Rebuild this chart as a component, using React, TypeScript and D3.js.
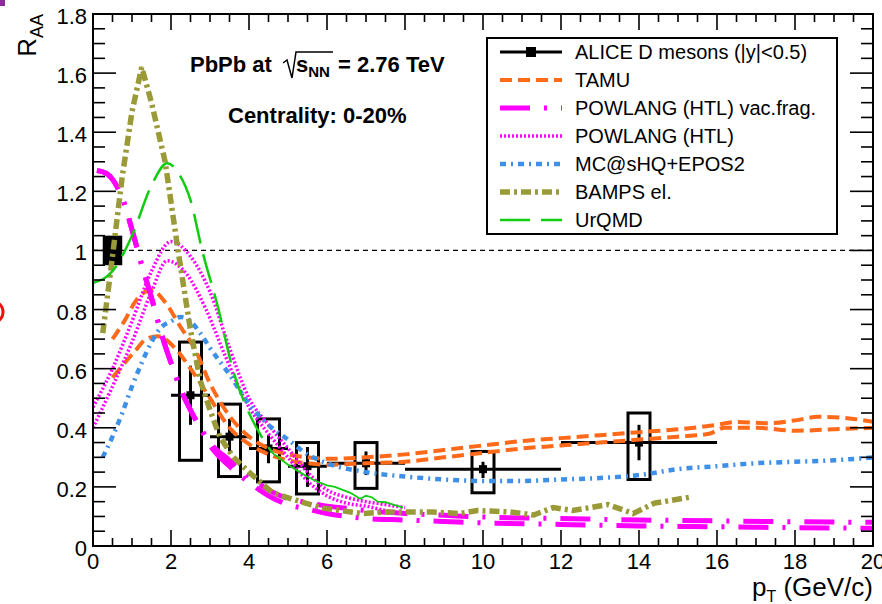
import React from "react";
import * as d3 from "d3";

type Pt = [number, number];

const width = 882;
const height = 604;
const frame = { left: 93, right: 873, top: 14, bottom: 546 };
const font = "'Liberation Sans', Arial, Helvetica, sans-serif";

// ALICE D mesons, 0-20%
const alicePt = [2.5, 3.5, 4.5, 5.5, 7, 10, 14];
const alicePtLow = [2, 3, 4, 5, 6, 8, 12];
const alicePtHigh = [3, 4, 5, 6, 8, 12, 16];
const aliceRaa = [0.51, 0.37, 0.33, 0.27, 0.28, 0.26, 0.35];
const aliceStatLow = [0.41, 0.32, 0.28, 0.2, 0.24, 0.23, 0.29];
const aliceStatHigh = [0.61, 0.43, 0.375, 0.335, 0.32, 0.285, 0.41];
const aliceSysLow = [0.29, 0.235, 0.217, 0.176, 0.195, 0.18, 0.225];
const aliceSysHigh = [0.69, 0.48, 0.43, 0.35, 0.35, 0.32, 0.45];
const normPt = [0.25, 0.75];
const normRaa = [0.95, 1.05];

// model curves
const tamuUpper: Pt[] = [
  [0.5, 0.7], [0.8, 0.76], [1.1, 0.83], [1.5, 0.866], [1.85, 0.825], [2.25, 0.74],
  [2.6, 0.67], [3.0, 0.55], [3.5, 0.44], [4.0, 0.37], [4.5, 0.33], [5, 0.31],
  [5.5, 0.3], [6, 0.295], [7, 0.3], [8, 0.31], [9, 0.325], [10, 0.34], [11, 0.355],
  [12, 0.365], [13, 0.375], [14, 0.385], [15, 0.395], [16, 0.41], [16.5, 0.42],
  [17.3, 0.415], [18, 0.425], [18.6, 0.437], [19.5, 0.43], [20, 0.42],
];
const tamuLower: Pt[] = [
  [0.5, 0.57], [1.08, 0.66], [1.36, 0.7], [1.67, 0.71], [2.1, 0.67], [2.5, 0.6],
  [3.0, 0.5], [3.5, 0.4], [4.0, 0.345], [4.5, 0.31], [5, 0.29], [5.5, 0.28],
  [6, 0.275], [7, 0.28], [8, 0.285], [9, 0.3], [10, 0.315], [11, 0.33], [12, 0.34],
  [13, 0.35], [14, 0.36], [15, 0.37], [15.8, 0.38], [16.2, 0.4], [17, 0.4],
  [18, 0.39], [19, 0.395], [20, 0.4],
];
const vacFragUpper: Pt[] = [
  [0.1, 1.27], [0.35, 1.26], [0.6, 1.22], [0.8, 1.16], [1.0, 1.07], [1.25, 0.95],
  [1.5, 0.84], [1.75, 0.72], [2.0, 0.62], [2.25, 0.53], [2.5, 0.46], [2.75, 0.4],
  [3.0, 0.35], [3.5, 0.29], [4.0, 0.235], [4.5, 0.19], [5, 0.16], [5.5, 0.147],
  [6, 0.135], [6.5, 0.128], [7, 0.12], [8, 0.11], [9, 0.104], [10, 0.098],
  [12, 0.093], [14, 0.088], [16, 0.085], [18, 0.082], [20, 0.08],
];
const vacFragLower: Pt[] = [
  [0.1, 1.27], [0.35, 1.26], [0.6, 1.22], [0.8, 1.16], [1.0, 1.07], [1.25, 0.95],
  [1.5, 0.84], [1.75, 0.72], [2.0, 0.62], [2.25, 0.53], [2.5, 0.46], [2.75, 0.4],
  [3.0, 0.34], [3.5, 0.27], [4.0, 0.215], [4.5, 0.17], [5, 0.14], [5.5, 0.125],
  [6, 0.11], [6.5, 0.1], [7, 0.093], [8, 0.088], [9, 0.083], [10, 0.078],
  [12, 0.073], [14, 0.068], [16, 0.065], [18, 0.062], [20, 0.06],
];
const htlUpper: Pt[] = [
  [0, 0.47], [0.5, 0.6], [1.0, 0.76], [1.5, 0.93], [2.0, 1.03], [2.5, 0.98],
  [3.0, 0.86], [3.5, 0.67], [4.0, 0.5], [4.5, 0.41], [5, 0.33], [5.5, 0.25],
  [6, 0.19], [6.5, 0.165], [7, 0.15], [7.5, 0.14], [8, 0.13],
];
const htlLower: Pt[] = [
  [0, 0.4], [0.5, 0.54], [1.0, 0.69], [1.5, 0.86], [1.9, 0.965], [2.4, 0.92],
  [2.9, 0.8], [3.4, 0.64], [4.0, 0.47], [4.5, 0.38], [5, 0.3], [5.5, 0.22],
  [6, 0.17], [6.5, 0.145], [7, 0.135], [7.5, 0.12], [8, 0.11],
];
const mcshq: Pt[] = [
  [0.25, 0.3], [0.5, 0.37], [0.75, 0.45], [1.0, 0.54], [1.25, 0.62], [1.5, 0.69],
  [1.75, 0.74], [2.0, 0.76], [2.25, 0.775], [2.5, 0.76], [2.75, 0.72], [3.0, 0.67],
  [3.5, 0.58], [4.0, 0.48], [4.5, 0.41], [5, 0.36], [5.5, 0.31], [6, 0.28],
  [7, 0.25], [8, 0.235], [9, 0.225], [10, 0.22], [11, 0.22], [12, 0.225],
  [13, 0.23], [14, 0.24], [15, 0.26], [16, 0.27], [17, 0.28], [18, 0.285],
  [19, 0.29], [20, 0.3],
];
const bamps: Pt[] = [
  [0.25, 0.72], [0.5, 0.98], [0.75, 1.25], [1.0, 1.47], [1.25, 1.62], [1.5, 1.5],
  [1.85, 1.3], [2.18, 1.0], [2.5, 0.73], [2.75, 0.56], [3.0, 0.46], [3.25, 0.37],
  [3.6, 0.3], [4.0, 0.25], [4.6, 0.18], [5.2, 0.155], [5.9, 0.128], [6.9, 0.11],
  [7.5, 0.115], [8.3, 0.115], [8.7, 0.115], [9.4, 0.11], [9.85, 0.12], [10.7, 0.115],
  [11.3, 0.105], [11.8, 0.13], [12.3, 0.12], [13.2, 0.14], [13.85, 0.11],
  [14.4, 0.145], [15.3, 0.165],
];
const urqmd: Pt[] = [
  [0, 0.89], [0.5, 0.93], [1.0, 1.05], [1.5, 1.22], [1.9, 1.295], [2.2, 1.26],
  [2.5, 1.17], [2.8, 1.0], [3.2, 0.81], [3.6, 0.59], [4.0, 0.45], [4.3, 0.375],
  [4.6, 0.315], [5.0, 0.275], [5.3, 0.25], [5.56, 0.23], [5.8, 0.215], [6.0, 0.205],
  [6.2, 0.2], [6.4, 0.19], [6.6, 0.18], [6.85, 0.16], [7.0, 0.17], [7.15, 0.165],
  [7.3, 0.15], [7.5, 0.148], [7.7, 0.14], [7.95, 0.13],
];
const urqmdDashEnd = 4.8;

const legendLabels = [
  "ALICE D mesons (|y|<0.5)",
  "TAMU",
  "POWLANG (HTL) vac.frag.",
  "POWLANG (HTL)",
  "MC@sHQ+EPOS2",
  "BAMPS el.",
  "UrQMD",
];

const styles = {
  tamu: { stroke: "#ff6a1a", width: 4, dash: "12 6" },
  vac: { stroke: "#ff00ff", width: 5, dash: "30 14 3 14" },
  htl: { stroke: "#ff00ff", width: 3.5, dash: "2 2" },
  mc: { stroke: "#3d8fe8", width: 4.5, dash: "6 5 2 5" },
  bamps: { stroke: "#9a9a38", width: 5.5, dash: "10 4 3 4" },
  urqmd: { stroke: "#11cc11", width: 2.5, dash: "30 11" },
};

export default function App() {
  const x = d3.scaleLinear().domain([0, 20]).range([frame.left, frame.right]);
  const y = d3.scaleLinear().domain([0, 1.8]).range([frame.bottom, frame.top]);

  const smooth = d3
    .line<Pt>()
    .x((d) => x(d[0]))
    .y((d) => y(d[1]))
    .curve(d3.curveMonotoneX);
  const straight = d3
    .line<Pt>()
    .x((d) => x(d[0]))
    .y((d) => y(d[1]));

  const xMajor = x.ticks(10);
  const xMinor = d3.range(0, 20.001, 0.5).filter((v) => Math.abs(v / 2 - Math.round(v / 2)) > 1e-6);
  const yMajor = y.ticks(9);
  const yMinor = d3.range(0, 1.8001, 0.05).filter((v) => Math.abs(v / 0.2 - Math.round(v / 0.2)) > 1e-6);
  const yFmt = (v: number) => String(+v.toFixed(1));

  const curve = (
    pts: Pt[],
    s: { stroke: string; width: number; dash: string },
    gen = smooth
  ) => (
    <path
      d={gen(pts) || ""}
      fill="none"
      stroke={s.stroke}
      strokeWidth={s.width}
      strokeDasharray={s.dash}
    />
  );

  const legendX = 487;
  const legendY = 38;
  const rowY = (i: number) => 52 + i * 28;
  const legendSamples = [
    null,
    styles.tamu,
    styles.vac,
    styles.htl,
    styles.mc,
    styles.bamps,
    styles.urqmd,
  ];

  return (
    <svg
      width={width}
      height={height}
      style={{ position: "absolute", left: 0, top: 0, background: "#fff" }}
      fontFamily={font}
    >
      <defs>
        <clipPath id="plot">
          <rect
            x={frame.left}
            y={frame.top}
            width={frame.right - frame.left}
            height={frame.bottom - frame.top}
          />
        </clipPath>
      </defs>

      {/* stray marks at the crop edge */}
      <rect x={0} y={0} width={5} height={6} fill="#8a2c9a" />
      <circle cx={-8} cy={312} r={11} fill="none" stroke="#ee1111" strokeWidth={3} />

      {/* reference line at 1 */}
      <line
        x1={frame.left}
        x2={frame.right}
        y1={y(1)}
        y2={y(1)}
        stroke="#000"
        strokeWidth={1.2}
        strokeDasharray="5 4"
      />

      {/* ALICE data */}
      <g>
        <rect
          x={x(normPt[0])}
          y={y(normRaa[1])}
          width={x(normPt[1]) - x(normPt[0])}
          height={y(normRaa[0]) - y(normRaa[1])}
          fill="#000"
        />
        {alicePt.map((pt, i) => (
          <g key={pt}>
            <rect
              x={x(pt) - 11}
              y={y(aliceSysHigh[i])}
              width={22}
              height={y(aliceSysLow[i]) - y(aliceSysHigh[i])}
              fill="none"
              stroke="#000"
              strokeWidth={3}
            />
            <line
              x1={x(alicePtLow[i])}
              x2={x(alicePtHigh[i])}
              y1={y(aliceRaa[i])}
              y2={y(aliceRaa[i])}
              stroke="#000"
              strokeWidth={3}
            />
            <line
              x1={x(pt)}
              x2={x(pt)}
              y1={y(aliceStatLow[i])}
              y2={y(aliceStatHigh[i])}
              stroke="#000"
              strokeWidth={3}
            />
            <rect x={x(pt) - 4} y={y(aliceRaa[i]) - 4} width={8} height={8} fill="#000" />
          </g>
        ))}
      </g>

      {/* models */}
      <g clipPath="url(#plot)">
        {curve(tamuUpper, styles.tamu)}
        {curve(tamuLower, styles.tamu)}
        {curve(htlUpper, styles.htl)}
        {curve(htlLower, styles.htl)}
        {curve(mcshq, styles.mc)}
        {curve(vacFragUpper, styles.vac)}
        {curve(vacFragLower, styles.vac)}
        {curve(bamps, styles.bamps, straight)}
        {curve(urqmd.filter((d) => d[0] <= urqmdDashEnd), styles.urqmd)}
        <path
          d={straight(urqmd.filter((d) => d[0] >= 4.6)) || ""}
          fill="none"
          stroke={styles.urqmd.stroke}
          strokeWidth={1.8}
        />
      </g>

      {/* frame and ticks */}
      <rect
        x={frame.left}
        y={frame.top}
        width={frame.right - frame.left}
        height={frame.bottom - frame.top}
        fill="none"
        stroke="#000"
        strokeWidth={2}
      />
      <g stroke="#000" strokeWidth={1.6}>
        {xMajor.map((v) => (
          <g key={`xM${v}`}>
            <line x1={x(v)} x2={x(v)} y1={frame.bottom} y2={frame.bottom - 16} />
            <line x1={x(v)} x2={x(v)} y1={frame.top} y2={frame.top + 16} />
          </g>
        ))}
        {xMinor.map((v) => (
          <g key={`xm${v}`}>
            <line x1={x(v)} x2={x(v)} y1={frame.bottom} y2={frame.bottom - 8} />
            <line x1={x(v)} x2={x(v)} y1={frame.top} y2={frame.top + 8} />
          </g>
        ))}
        {yMajor.map((v) => (
          <g key={`yM${v}`}>
            <line x1={frame.left} x2={frame.left + 23} y1={y(v)} y2={y(v)} />
            <line x1={frame.right} x2={frame.right - 23} y1={y(v)} y2={y(v)} />
          </g>
        ))}
        {yMinor.map((v) => (
          <g key={`ym${v}`}>
            <line x1={frame.left} x2={frame.left + 12} y1={y(v)} y2={y(v)} />
            <line x1={frame.right} x2={frame.right - 12} y1={y(v)} y2={y(v)} />
          </g>
        ))}
      </g>

      <g fontSize={22} fill="#000">
        {xMajor.map((v) => (
          <text key={`xl${v}`} x={x(v)} y={569} textAnchor="middle">
            {v}
          </text>
        ))}
        {yMajor.map((v) => (
          <text key={`yl${v}`} x={87} y={y(v) + 10} textAnchor="end">
            {yFmt(v)}
          </text>
        ))}
      </g>

      {/* axis titles */}
      <text fontSize={26} x={873} y={596} textAnchor="end">
        p
        <tspan fontSize={16} dy={6}>T</tspan>
        <tspan dy={-6}> (GeV/c)</tspan>
      </text>
      <text fontSize={26} transform="translate(36,14) rotate(-90)" textAnchor="end">
        R<tspan fontSize={18} dy={7}>AA</tspan>
      </text>

      {/* annotations */}
      <g fontWeight="bold" fontSize={22} fill="#000">
        <text x={190} y={72}>PbPb at</text>
        <path d="M283,63 L287,60 L292,78 L296,52 L333,52" fill="none" stroke="#000" strokeWidth={1.5} />
        <text x={296} y={72}>
          s<tspan fontSize={15} dy={5}>NN</tspan>
        </text>
        <text x={338} y={72}>= 2.76 TeV</text>
        <text x={228} y={123}>Centrality: 0-20%</text>
      </g>

      {/* legend */}
      <g>
        <rect x={legendX} y={legendY} width={350} height={196} fill="#fff" stroke="#000" strokeWidth={2} />
        {legendLabels.map((label, i) => {
          const s = legendSamples[i];
          return (
            <g key={label}>
              {s ? (
                <line
                  x1={500}
                  x2={562}
                  y1={rowY(i)}
                  y2={rowY(i)}
                  stroke={s.stroke}
                  strokeWidth={s.width}
                  strokeDasharray={s.dash}
                />
              ) : (
                <g>
                  <line x1={500} x2={562} y1={rowY(i)} y2={rowY(i)} stroke="#000" strokeWidth={3} />
                  <rect x={526} y={rowY(i) - 5} width={10} height={10} fill="#000" />
                </g>
              )}
              <text x={575} y={rowY(i) + 7} fontSize={20} fill="#000">
                {label}
              </text>
            </g>
          );
        })}
      </g>
    </svg>
  );
}
